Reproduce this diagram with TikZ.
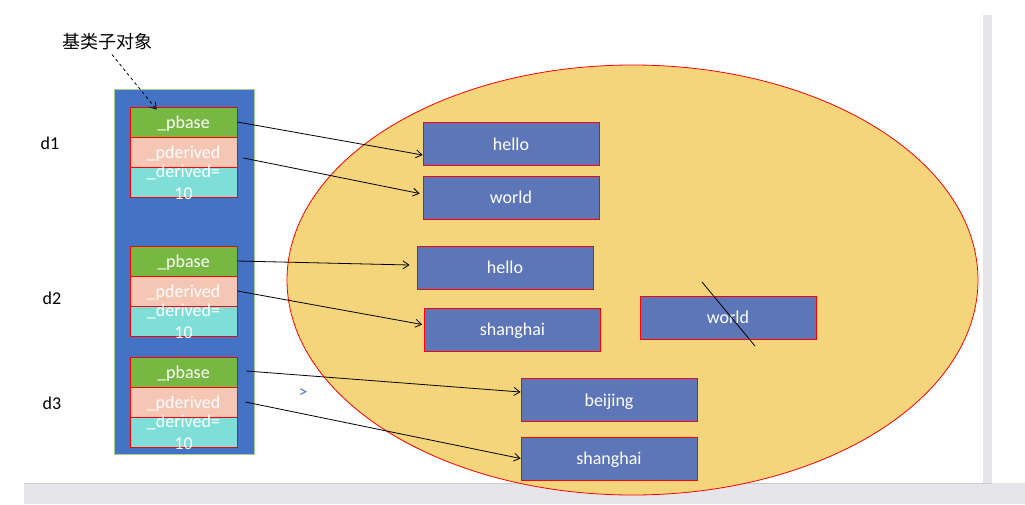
\documentclass[tikz,border=0pt]{standalone}
\usepackage{fontspec}
\setmainfont{Carlito}
\newfontfamily\cjk{Noto Sans CJK SC}
\usetikzlibrary{arrows.meta}
\definecolor{gbase}{HTML}{77B843}
\definecolor{pderc}{HTML}{F5C6B4}
\definecolor{derc}{HTML}{7FDFD8}
\definecolor{boxblue}{HTML}{5D76B8}
\definecolor{bigblue}{HTML}{4472C4}
\definecolor{bigborder}{HTML}{A6D18C}
\definecolor{ellfill}{HTML}{F5D57B}
\definecolor{pagegray}{HTML}{E6E6EA}
\definecolor{shadowgray}{HTML}{CDCDD1}
\tikzset{
  cell/.style={draw=red, line width=0.8pt, minimum width=107pt, minimum height=30pt,
    inner sep=0pt, text=white, text height=14pt, text depth=2pt,
    font=\fontsize{18}{22}\selectfont},
  vbox/.style={draw=red, line width=0.8pt, fill=boxblue, minimum width=176pt, minimum height=43pt,
    inner sep=0pt, text=white, text height=14pt, text depth=2pt,
    font=\fontsize{18}{22}\selectfont},
  lbl/.style={inner sep=0pt, font=\fontsize{18}{22}\selectfont},
  ptr/.style={line width=0.8pt, -{Straight Barb[length=6pt,width=8pt]}},
}
\begin{document}
\begin{tikzpicture}[x=1pt,y=-1pt]
\useasboundingbox (0,0) rectangle (1025,504);
\fill[white] (0,0) rectangle (1025,504);
% page background strips
\fill[pagegray] (983,15) rectangle (992,483);
\fill[pagegray] (24,483) rectangle (1025,504);
\draw[shadowgray, line width=0.8pt] (24,483) -- (992,483);
% ellipse (heap)
\draw[red, line width=0.8pt, fill=ellfill] (632.5,280) ellipse [x radius=345.5pt, y radius=215pt];
% big stack rectangle
\draw[bigborder, line width=1pt, fill=bigblue] (114,89) rectangle (254,454);
% labels
\node[lbl] (d1) at (50,143) {d1};
\node[lbl] (d2) at (52,298) {d2};
\node[lbl] (d3) at (52,403) {d3};
\node[lbl, font=\cjk\fontsize{18}{22}\selectfont] (title) at (107,42) {基类子对象};
\node[lbl, text=bigblue, font=\fontsize{17}{20}\selectfont] (gt) at (303,393) {>};
% d1 object
\node[cell, fill=gbase] (pb1) at (183.5,122) {\_pbase};
\node[cell, fill=pderc] (pd1) at (183.5,152) {\_pderived};
\node[cell, fill=derc] (dv1) at (183.5,182) {};
\node[lbl, text=white, align=center] (dt1) at (183.5,182) {\_derived=\\10};
% d2 object
\node[cell, fill=gbase] (pb2) at (183.5,261) {\_pbase};
\node[cell, fill=pderc] (pd2) at (183.5,291) {\_pderived};
\node[cell, fill=derc] (dv2) at (183.5,321.5) {};
\node[lbl, text=white, align=center] (dt2) at (183.5,321.5) {\_derived=\\10};
% d3 object
\node[cell, fill=gbase] (pb3) at (183.5,372) {\_pbase};
\node[cell, fill=pderc] (pd3) at (183.5,402) {\_pderived};
\node[cell, fill=derc] (dv3) at (183.5,432) {};
\node[lbl, text=white, align=center] (dt3) at (183.5,432) {\_derived=\\10};
% heap strings
\node[vbox] (h1) at (511,144) {hello};
\node[vbox] (w1) at (511,197.5) {world};
\node[vbox] (h2) at (505,267.5) {hello};
\node[vbox] (s1) at (512.5,329.5) {shanghai};
\node[vbox] (w2) at (728,317.5) {world};
\node[vbox] (bj) at (609,400) {beijing};
\node[vbox] (s2) at (609,458.5) {shanghai};
% cross-out on freed world
\coordinate (c1) at ([xshift=-26pt,yshift=35.5pt]w2.center);
\coordinate (c2) at ([xshift=27pt,yshift=-28.5pt]w2.center);
\draw[line width=0.8pt] (c1) -- (c2);
% pointers
\draw[ptr] (pb1.east) -- ([yshift=-11pt]h1.west);
\draw[ptr] ([xshift=6pt,yshift=-6pt]pd1.east) -- ([xshift=-3pt,yshift=4pt]w1.west);
\draw[ptr] (pb2.east) -- ([xshift=-7pt,yshift=2.5pt]h2.west);
\draw[ptr] (pd2.east) -- ([xshift=-2pt,yshift=5pt]s1.west);
\draw[ptr] ([xshift=9pt,yshift=1pt]pb3.east) -- ([yshift=8pt]bj.west);
\draw[ptr] ([xshift=8pt]pd3.east) -- (s2.west);
% base sub-object annotation
\draw[ptr, dashed] ([xshift=5pt,yshift=-4pt]title.south) -- ([xshift=27pt,yshift=-3pt]pb1.north west);
\end{tikzpicture}
\end{document}
